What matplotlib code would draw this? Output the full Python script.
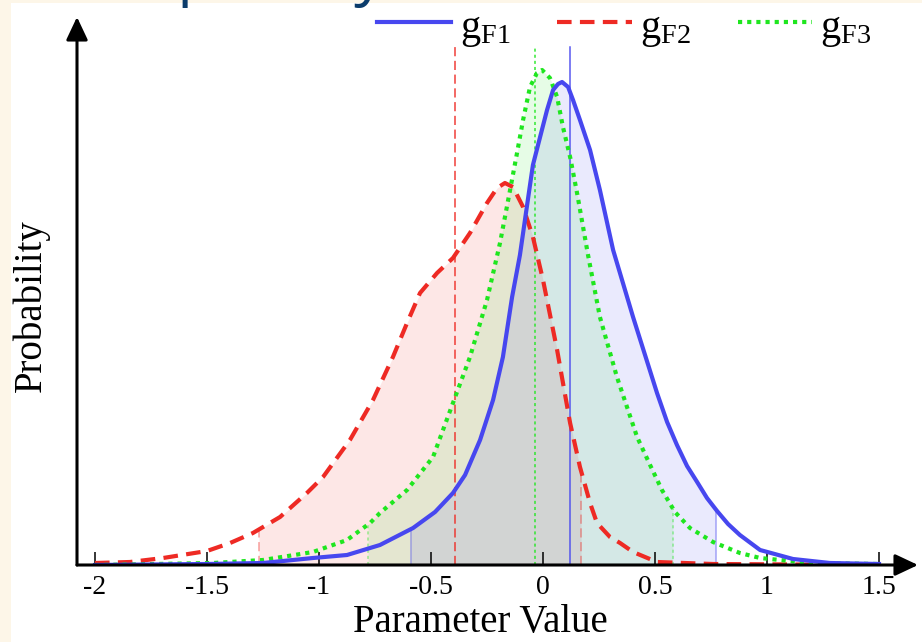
import numpy as np
import matplotlib
matplotlib.use("Agg")
import matplotlib.pyplot as plt
from matplotlib.patches import Rectangle

plt.rcParams['font.family'] = ['Liberation Serif', 'DejaVu Serif']
plt.rcParams['mathtext.fontset'] = 'custom'
plt.rcParams['mathtext.rm'] = 'Liberation Serif'
plt.rcParams['mathtext.it'] = 'Liberation Serif:italic'

# densities (arbitrary probability units)
x_f1 = [-2.0, -1.5, -1.25, -1.027, -0.875, -0.728, -0.580, -0.482, -0.402, -0.348,
        -0.281, -0.223, -0.179, -0.138, -0.103, -0.071, -0.045, -0.013, 0.018, 0.045,
        0.067, 0.085, 0.112, 0.134, 0.165, 0.210, 0.254, 0.313, 0.402, 0.509, 0.554,
        0.598, 0.643, 0.688, 0.732, 0.777, 0.826, 0.879, 0.969, 1.116, 1.281, 1.5]
y_f1 = [0, 1, 2, 7, 10, 20, 37, 53, 72, 90, 125, 165, 208, 268, 310, 360, 400, 428,
        455, 475, 481, 483, 478, 465, 445, 415, 375, 315, 248, 172, 143, 120, 99, 83,
        67, 54, 41, 30, 15, 6, 2, 1]

x_f2 = [-2.0, -1.844, -1.696, -1.5, -1.397, -1.295, -1.174, -1.054, -0.982, -0.862,
        -0.759, -0.670, -0.607, -0.549, -0.473, -0.402, -0.326, -0.25, -0.205, -0.170,
        -0.134, -0.089, -0.045, 0.0, 0.063, 0.121, 0.165, 0.210, 0.241, 0.299, 0.344,
        0.402, 0.509, 0.759, 1.5]
y_f2 = [2, 3, 7, 14, 22, 32, 48, 72, 88, 125, 165, 208, 242, 272, 292, 307, 332,
        362, 377, 382, 378, 358, 328, 285, 215, 142, 98, 62, 42, 28, 22, 13, 3, 1, 0]

x_f3 = [-2.0, -1.473, -1.25, -1.027, -0.875, -0.772, -0.728, -0.607, -0.491, -0.402,
        -0.326, -0.25, -0.192, -0.147, -0.116, -0.089, -0.058, -0.027, -0.004, 0.031,
        0.063, 0.089, 0.121, 0.152, 0.201, 0.254, 0.330, 0.420, 0.478, 0.531, 0.589,
        0.656, 0.759, 0.879, 0.969, 1.192, 1.5]
y_f3 = [0, 2, 5, 13, 25, 42, 52, 75, 108, 162, 208, 265, 322, 375, 412, 445, 478,
        492, 495, 487, 468, 438, 408, 372, 310, 248, 188, 128, 100, 75, 53, 37, 23,
        12, 7, 2, 1]

means = [0.121, -0.393, -0.036]
lower = [-0.589, -1.268, -0.781]
upper = [0.772, 0.170, 0.580]
labels = [r'$\mathrm{g}_{\mathrm{F1}}$', r'$\mathrm{g}_{\mathrm{F2}}$', r'$\mathrm{g}_{\mathrm{F3}}$']
colors = ['#4747ef', '#ee2a24', '#1fe61f']
styles = ['-', (0, (3.5, 2)), (0, (1, 1.2))]
mean_styles = ['-', (0, (6, 3)), (0, (2, 2))]

xticks = [-2, -1.5, -1, -0.5, 0, 0.5, 1, 1.5]
xticklabels = ['-2', '-1.5', '-1', '-0.5', '0', '0.5', '1', '1.5']

fig = plt.figure(figsize=(9.22, 6.42), dpi=100, facecolor='#fdf6e8')
fig.patches.append(Rectangle((11 / 922, 0), 1, (642 - 3) / 642, transform=fig.transFigure,
                             facecolor='white', edgecolor='none', zorder=-5))
fig.text(105 / 922, 1 + 6 / 642, 'Capability', family='Open Sans', fontsize=44,
         color='#0c3c6b', va='baseline', ha='left', zorder=5)

ax = fig.add_axes([77 / 922, 77 / 642, 841 / 922, 548 / 642])
ax.patch.set_visible(False)
ax.set_xlim(-2.0804, 1.6741)
ax.set_ylim(0, 548)

curves = [(x_f1, y_f1), (x_f2, y_f2), (x_f3, y_f3)]
order = [1, 2, 0]
for i in order:
    x, y = np.array(curves[i][0]), np.array(curves[i][1])
    inside = (x > lower[i]) & (x < upper[i])
    xs = np.concatenate([[lower[i]], x[inside], [upper[i]]])
    ys = np.interp(xs, x, y)
    ax.fill_between(xs, 0, ys, color=colors[i], alpha=0.11, lw=0, zorder=1)
    for b in (lower[i], upper[i]):
        ax.plot([b, b], [0, np.interp(b, x, y)], color=colors[i], alpha=0.45, lw=1.1,
                linestyle=mean_styles[i], zorder=2)
for i in order:
    ax.plot([means[i], means[i]], [0, 518], color=colors[i], lw=1.1, alpha=0.9,
            linestyle=mean_styles[i], zorder=2)
for i in order:
    x, y = curves[i]
    ax.plot(x, y, color=colors[i], lw=3, linestyle=styles[i], zorder=3,
            solid_joinstyle='round', dash_joinstyle='round')

# legend drawn along the top
leg_x = [(377, 451, 460), (557, 632, 640), (738, 812, 820)]
for i, (a, b, t) in enumerate(leg_x):
    ax.plot([(a - 77) / 841, (b - 77) / 841], [(565 - 22) / 548] * 2, transform=ax.transAxes,
            color=colors[i], lw=3, linestyle=styles[i], clip_on=False)
    ax.text((t - 77) / 841, (565 - 38) / 548, labels[i], transform=ax.transAxes,
            fontsize=29, va='baseline', ha='left')

for s in ax.spines.values():
    s.set_visible(False)
arrow = dict(arrowstyle='-|>,head_length=0.7,head_width=0.33', lw=2.2, color='k',
             mutation_scale=20, shrinkA=0, shrinkB=0)
ax.annotate('', xy=(1, 0), xytext=(0, 0), xycoords='axes fraction', arrowprops=arrow)
ax.annotate('', xy=(0, 1), xytext=(0, 0), xycoords='axes fraction', arrowprops=arrow)

ax.set_xticks(xticks)
ax.set_xticklabels(xticklabels, fontsize=20)
ax.set_yticks([])
ax.tick_params(axis='x', direction='in', length=9.5, width=1.1, pad=7)

fig.text(480 / 922, 1 - 632 / 642, 'Parameter Value', fontsize=28, ha='center', va='baseline')
fig.text(31 / 922, 1 - 306 / 642, 'Probability', fontsize=28, ha='center', va='center',
         rotation=90)

fig.savefig('out.png', dpi=100, facecolor=fig.get_facecolor())
